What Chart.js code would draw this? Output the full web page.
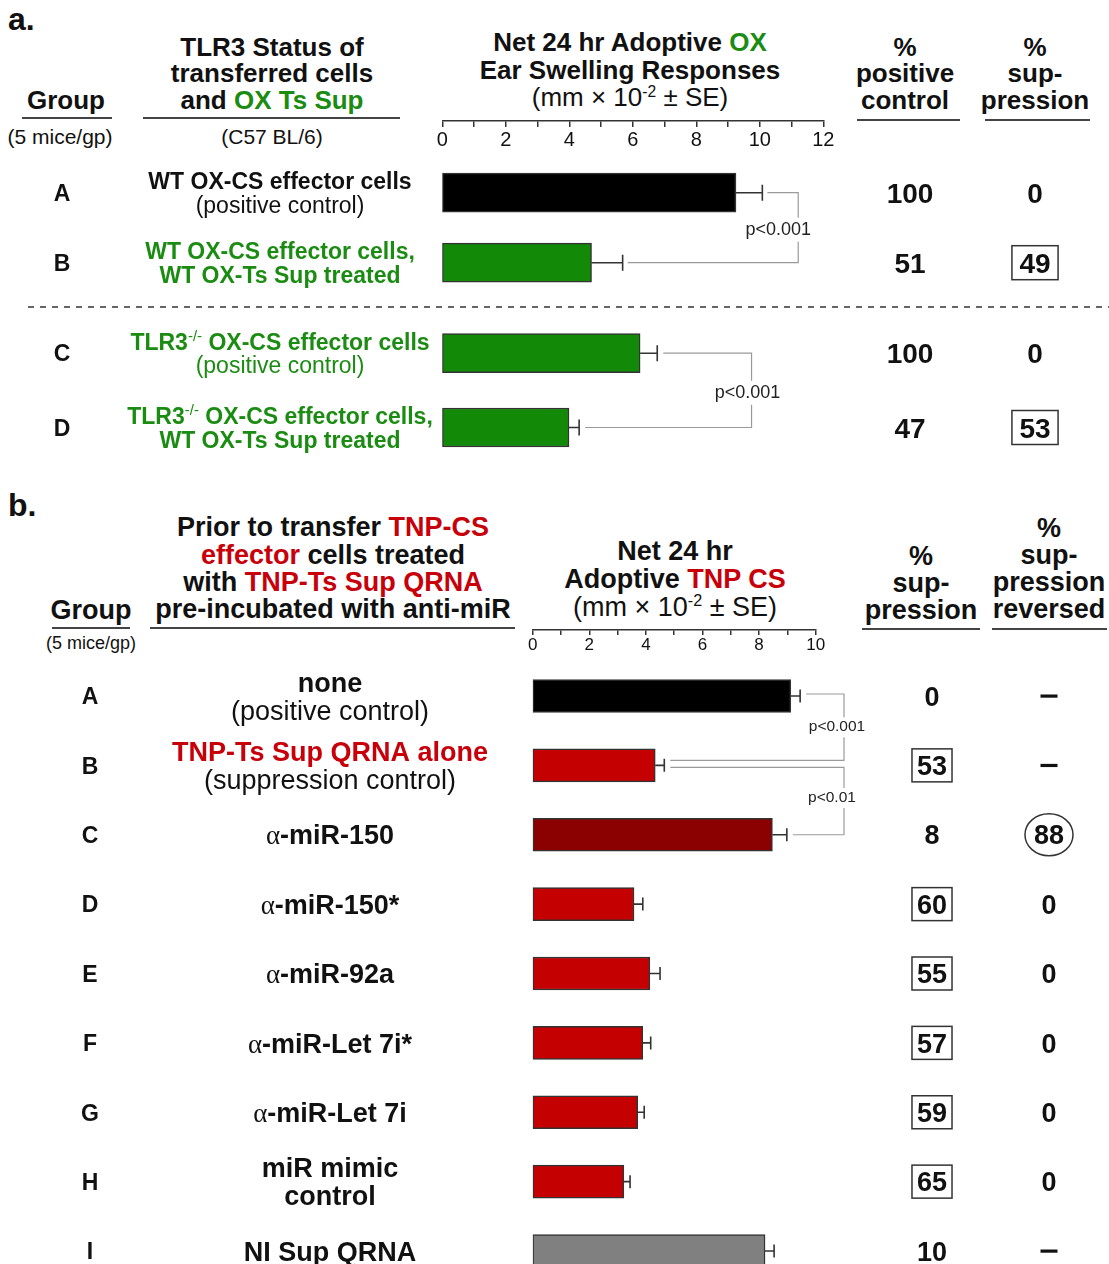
<!DOCTYPE html>
<html>
<head>
<meta charset="utf-8">
<script src="https://cdn.jsdelivr.net/npm/chart.js"></script>
<style>
html, body { margin:0; padding:0; overflow:hidden; background:#fff; }
body { position:relative; width:1109px; height:1264px; font-family:"Liberation Sans", Arial, Helvetica, sans-serif; color:#111; }
canvas { position:absolute; left:0; }
.t { position:absolute; text-align:center; white-space:nowrap; font-weight:bold; }
.n { font-weight:normal; }
.g { color:#1b8c12; }
.r { color:#c8000a; }
.sup { font-size:60%; position:relative; top:-0.6em; font-weight:normal; }
.u { position:absolute; height:2px; background:#444; }
.dash { position:absolute; left:28px; width:1081px; top:306px; height:2px; background:repeating-linear-gradient(to right,#666 0 6px,transparent 6px 12px); }
</style>
</head>
<body>

<!-- panel a headers -->
<div class="t" style="left:8px;top:2px;font-size:32px;line-height:34px">a.</div>
<div class="t" style="left:6px;width:120px;top:86.5px;font-size:26px;line-height:27px">Group</div>
<div class="u" style="left:22px;top:117px;width:90px"></div>
<div class="t n" style="left:-5px;width:130px;top:125px;font-size:21px;line-height:24px">(5 mice/gp)</div>
<div class="t" style="left:122px;width:300px;top:33.75px;font-size:26px;line-height:26.5px">TLR3 Status of<br>transferred cells<br>and <span class="g">OX Ts Sup</span></div>
<div class="u" style="left:143px;top:117px;width:257px"></div>
<div class="t n" style="left:122px;width:300px;top:125px;font-size:21px;line-height:24px">(C57 BL/6)</div>
<div class="t" style="left:450px;width:360px;top:29.25px;font-size:26px;line-height:27.5px">Net 24 hr Adoptive <span class="g">OX</span><br>Ear Swelling Responses<br><span class="n">(mm × 10<span class="sup">-2</span> ± SE)</span></div>
<div class="t" style="left:845px;width:120px;top:33.75px;font-size:26px;line-height:26.5px">%<br>positive<br>control</div>
<div class="u" style="left:857px;top:119px;width:103px"></div>
<div class="t" style="left:975px;width:120px;top:33.75px;font-size:26px;line-height:26.5px">%<br>sup-<br>pression</div>
<div class="u" style="left:985px;top:119px;width:105px"></div>
<div class="dash"></div>

<!-- panel b headers -->
<div class="t" style="left:8px;top:488px;font-size:32px;line-height:34px">b.</div>
<div class="t" style="left:31px;width:120px;top:596.5px;font-size:27px;line-height:27px">Group</div>
<div class="u" style="left:52px;top:627px;width:78px"></div>
<div class="t n" style="left:31px;width:120px;top:633px;font-size:18px;line-height:20px">(5 mice/gp)</div>
<div class="t" style="left:133px;width:400px;top:514.35px;font-size:27px;line-height:27.3px">Prior to transfer <span class="r">TNP-CS</span><br><span class="r">effector</span> cells treated<br>with <span class="r">TNP-Ts Sup QRNA</span><br>pre-incubated with anti-miR</div>
<div class="u" style="left:150px;top:627px;width:365px"></div>
<div class="t" style="left:525px;width:300px;top:537px;font-size:27px;line-height:28px">Net 24 hr<br>Adoptive <span class="r">TNP CS</span><br><span class="n">(mm × 10<span class="sup">-2</span> ± SE)</span></div>
<div class="t" style="left:861px;width:120px;top:542.5px;font-size:27px;line-height:27px">%<br>sup-<br>pression</div>
<div class="u" style="left:862px;top:628px;width:118px"></div>
<div class="t" style="left:989px;width:120px;top:514.5px;font-size:27px;line-height:27.3px">%<br>sup-<br>pression<br>reversed</div>
<div class="u" style="left:992px;top:628px;width:115px"></div>

<canvas id="axisA" width="1109" height="60" style="top:91px"></canvas>
<canvas id="chartA1" width="1109" height="180" style="top:140px"></canvas>
<canvas id="chartA2" width="1109" height="180" style="top:300px"></canvas>
<canvas id="axisB" width="1109" height="60" style="top:600px"></canvas>
<canvas id="chartB" width="1109" height="650" style="top:650px"></canvas>

<script>
const FONT = '"Liberation Sans", Arial, Helvetica, sans-serif'
const K = '#111111', G = '#1b8c12', R = '#c8000a'

// ---- panel a data
const aGroups = ['A', 'B', 'C', 'D']
const aMeans = [9.25, 4.70, 6.23, 3.99]
const aErrors = [0.83, 0.98, 0.54, 0.32]
const aColors = ['#000000', '#138a07', '#138a07', '#138a07']
const aPositive = ['100', '51', '100', '47']
const aSuppression = ['0', '49', '0', '53']
const aBoxed = [false, true, false, true]
const aTicks = [0, 2, 4, 6, 8, 10, 12]
const aLabels = [
    [[['WT OX-CS effector cells', K, 'b']], [['(positive control)', K, 'r']]],
    [[['WT OX-CS effector cells,', G, 'b']], [['WT OX-Ts Sup treated', G, 'b']]],
    [[['TLR3', G, 'b'], ['-/-', G, 'sup'], [' OX-CS effector cells', G, 'b']], [['(positive control)', G, 'r']]],
    [[['TLR3', G, 'b'], ['-/-', G, 'sup'], [' OX-CS effector cells,', G, 'b']], [['WT OX-Ts Sup treated', G, 'b']]]
]

// ---- panel b data
const bGroups = ['A', 'B', 'C', 'D', 'E', 'F', 'G', 'H', 'I']
const bMeans = [9.12, 4.33, 8.47, 3.58, 4.14, 3.89, 3.71, 3.22, 8.21]
const bErrors = [0.33, 0.32, 0.51, 0.31, 0.36, 0.28, 0.23, 0.22, 0.32]
const bColors = ['#000000', '#c40000', '#8b0000', '#c40000', '#c40000', '#c40000', '#c40000', '#c40000', '#808080']
const bSuppression = ['0', '53', '8', '60', '55', '57', '59', '65', '10']
const bBoxed = [false, true, false, true, true, true, true, true, false]
const bReversed = ['–', '–', '88', '0', '0', '0', '0', '0', '–']
const bCircled = [false, false, true, false, false, false, false, false, false]
const bTicks = [0, 2, 4, 6, 8, 10]
const bLabels = [
    [[['none', K, 'b']], [['(positive control)', K, 'r']]],
    [[['TNP-Ts Sup QRNA alone', R, 'b']], [['(suppression control)', K, 'r']]],
    [[['α', K, 'greek'], ['-miR-150', K, 'b']]],
    [[['α', K, 'greek'], ['-miR-150*', K, 'b']]],
    [[['α', K, 'greek'], ['-miR-92a', K, 'b']]],
    [[['α', K, 'greek'], ['-miR-Let 7i*', K, 'b']]],
    [[['α', K, 'greek'], ['-miR-Let 7i', K, 'b']]],
    [[['miR mimic', K, 'b']], [['control', K, 'b']]],
    [[['NI Sup QRNA', K, 'b']]]
]

// draw one line of mixed text centred on cx, caps centred on y
function drawRich(ctx, segs, cx, y, size) {
    let parts = segs.map(([t, c, s]) => {
        let f, dy = 0
        if (s === 'sup') { f = Math.round(size * 0.66) + 'px ' + FONT; dy = -size * 0.4 }
        else if (s === 'greek') f = size + 'px "Liberation Serif", "DejaVu Serif", serif'
        else f = (s === 'b' ? 'bold ' : '') + size + 'px ' + FONT
        ctx.font = f
        return { t, c, f, dy, w: ctx.measureText(t).width }
    })
    let total = parts.reduce((s, p) => s + p.w, 0)
    let x = cx - total / 2
    let base = y + size * 0.36
    ctx.textAlign = 'left'
    ctx.textBaseline = 'alphabetic'
    for (let p of parts) {
        ctx.font = p.f
        ctx.fillStyle = p.c
        ctx.fillText(p.t, x, base + p.dy)
        x += p.w
    }
}

// row texts: group letter, description, number columns
function rowPlugin(rows) {
    return {
        id: 'rows',
        afterDraw(chart) {
            let ctx = chart.ctx, ys = chart.scales.y
            ctx.save()
            rows.groups.forEach((g, i) => {
                let y = ys.getPixelForValue(i)
                drawRich(ctx, [[g, K, 'b']], rows.letterX, y, rows.letterSize)
                let lines = rows.labels[i]
                lines.forEach((ln, k) => {
                    drawRich(ctx, ln, rows.textX, y + (k - (lines.length - 1) / 2) * rows.lineGap, rows.size)
                })
                rows.cols.forEach(col => {
                    let t = col.values[i]
                    ctx.font = 'bold ' + col.size + 'px ' + FONT
                    let w = ctx.measureText(t).width
                    ctx.strokeStyle = '#333'
                    ctx.lineWidth = 1.5
                    if (t === '–') {
                        // long dash for "not applicable"
                        ctx.fillStyle = K
                        ctx.fillRect(col.x - 8.5, y - 1.5, 17, 3.2)
                        return
                    }
                    drawRich(ctx, [[t, K, 'b']], col.x, y, col.size)
                    if (col.boxed && col.boxed[i]) ctx.strokeRect(col.x - w / 2 - col.pad, y - col.box / 2, w + 2 * col.pad, col.box)
                    if (col.circled && col.circled[i]) {
                        ctx.beginPath()
                        ctx.ellipse(col.x, y, w / 2 + 9, 21, 0, 0, 2 * Math.PI)
                        ctx.stroke()
                    }
                })
            })
            ctx.restore()
        }
    }
}

// error bars (+SE) and significance brackets
const errorPlugin = {
    id: 'errs',
    afterDatasetsDraw(chart, args, opts) {
        let ctx = chart.ctx, x = chart.scales.x, y = chart.scales.y
        let ds = chart.data.datasets[0]
        let meta = chart.getDatasetMeta(0)
        ctx.save()
        ctx.strokeStyle = '#333'
        ctx.lineWidth = 1.6
        meta.data.forEach((bar, i) => {
            let x0 = x.getPixelForValue(ds.data[i])
            let x1 = x.getPixelForValue(ds.data[i] + ds.errors[i])
            ctx.beginPath()
            ctx.moveTo(x0, bar.y); ctx.lineTo(x1, bar.y)
            ctx.moveTo(x1, bar.y - opts.cap / 2); ctx.lineTo(x1, bar.y + opts.cap / 2)
            ctx.stroke()
        })
        let end = i => x.getPixelForValue(ds.data[i] + ds.errors[i]) + opts.gap
        opts.brackets.forEach(b => {
            let ya = y.getPixelForValue(b.from) + (b.dyFrom || 0)
            let yb = y.getPixelForValue(b.to) + (b.dyTo || 0)
            let xb = x.getPixelForValue(b.at)
            let ym = (ya + yb) / 2 + (b.dyText || 0)
            ctx.strokeStyle = '#9a9a9a'
            ctx.lineWidth = 1.2
            ctx.beginPath()
            ctx.moveTo(end(b.from), ya); ctx.lineTo(xb, ya); ctx.lineTo(xb, ym - opts.textGap)
            ctx.moveTo(xb, ym + opts.textGap); ctx.lineTo(xb, yb); ctx.lineTo(end(b.to), yb)
            ctx.stroke()
            ctx.fillStyle = '#222'
            ctx.font = opts.pSize + 'px ' + FONT
            ctx.textAlign = 'center'
            ctx.textBaseline = 'middle'
            ctx.fillText(b.label, xb + b.dx, ym)
        })
        ctx.restore()
    }
}

function barChart(id, opt) {
    return new Chart(document.getElementById(id), {
        type: 'bar',
        data: {
            labels: opt.groups,
            datasets: [{
                data: opt.means,
                errors: opt.errors,
                backgroundColor: opt.colors,
                borderColor: '#333',
                borderWidth: 1.5,
                borderSkipped: false,
                barThickness: opt.thickness
            }]
        },
        options: {
            indexAxis: 'y',
            responsive: false,
            animation: false,
            devicePixelRatio: 1,
            events: [],
            layout: { padding: opt.padding },
            plugins: {
                legend: { display: false },
                tooltip: { enabled: false },
                errs: opt.errs
            },
            scales: {
                x: { display: false, min: 0, max: opt.max },
                y: { display: false }
            }
        },
        plugins: [errorPlugin, rowPlugin(opt.rows)]
    })
}

function axisChart(id, opt) {
    return new Chart(document.getElementById(id), {
        type: 'scatter',
        data: { datasets: [] },
        options: {
            responsive: false,
            animation: false,
            devicePixelRatio: 1,
            events: [],
            layout: { padding: { left: opt.left, right: opt.right, top: 0, bottom: 0 } },
            plugins: { legend: { display: false }, tooltip: { enabled: false } },
            scales: {
                x: {
                    type: 'linear', position: 'bottom', min: 0, max: opt.max,
                    afterFit: s => { s.height = 30 },
                    ticks: {
                        stepSize: 1, autoSkip: false, maxRotation: 0, padding: opt.pad,
                        color: '#111', font: { family: FONT, size: opt.size },
                        callback: v => opt.labels.includes(v) ? String(v) : ''
                    },
                    grid: { drawOnChartArea: false, tickLength: opt.tick, color: '#333', lineWidth: 1.5 },
                    border: { color: '#333', width: 1.5 }
                },
                y: { display: false }
            }
        }
    })
}

// ---- panel a
axisChart('axisA', { left: 442.3, right: 285.7, max: 12, labels: aTicks, size: 20, tick: 6, pad: 1 })

const aCols = (s, e) => [
    { x: 910, values: aPositive.slice(s, e), size: 28 },
    { x: 1035, values: aSuppression.slice(s, e), boxed: aBoxed.slice(s, e), size: 28, pad: 7.5, box: 34 }
]

barChart('chartA1', {
    groups: aGroups.slice(0, 2), means: aMeans.slice(0, 2), errors: aErrors.slice(0, 2), colors: aColors.slice(0, 2),
    max: 12, thickness: 39,
    padding: { left: 442.3, right: 285.7, top: 17.7, bottom: 22.3 },
    errs: { cap: 16, gap: 5, textGap: 12, pSize: 18,
        brackets: [{ from: 0, to: 1, at: 11.21, label: 'p<0.001', dx: -20, dyText: 2 }] },
    rows: { groups: aGroups.slice(0, 2), labels: aLabels.slice(0, 2), letterX: 62, letterSize: 23,
        textX: 280, size: 23, lineGap: 23.5, cols: aCols(0, 2) }
})

barChart('chartA2', {
    groups: aGroups.slice(2), means: aMeans.slice(2), errors: aErrors.slice(2), colors: aColors.slice(2),
    max: 12, thickness: 39,
    padding: { left: 442.3, right: 285.7, top: 16.05, bottom: 15.35 },
    errs: { cap: 16, gap: 6, textGap: 12, pSize: 18,
        brackets: [{ from: 0, to: 1, at: 9.74, label: 'p<0.001', dx: -4, dyText: 2.5 }] },
    rows: { groups: aGroups.slice(2), labels: aLabels.slice(2), letterX: 62, letterSize: 23,
        textX: 280, size: 23, lineGap: 23.5, cols: aCols(2, 4) }
})

// ---- panel b
axisChart('axisB', { left: 532.7, right: 293.3, max: 10, labels: bTicks, size: 17, tick: 5, pad: 0 })

barChart('chartB', {
    groups: bGroups, means: bMeans, errors: bErrors, colors: bColors,
    max: 10, thickness: 33,
    padding: { left: 532.7, right: 293.3, top: 11.3, bottom: 14.3 },
    errs: { cap: 13, gap: 6, textGap: 10, pSize: 15.5,
        brackets: [
            { from: 0, to: 1, at: 11.0, label: 'p<0.001', dx: -7, dyFrom: -2, dyTo: -5, dyText: 0 },
            { from: 1, to: 2, at: 11.0, label: 'p<0.01', dx: -12, dyFrom: 2, dyTo: 0, dyText: -3 }
        ] },
    rows: { groups: bGroups, labels: bLabels, letterX: 90, letterSize: 23,
        textX: 330, size: 27, lineGap: 28,
        cols: [
            { x: 932, values: bSuppression, boxed: bBoxed, size: 27, pad: 5, box: 33 },
            { x: 1049, values: bReversed, circled: bCircled, size: 27 }
        ] }
})
</script>
</body>
</html>
